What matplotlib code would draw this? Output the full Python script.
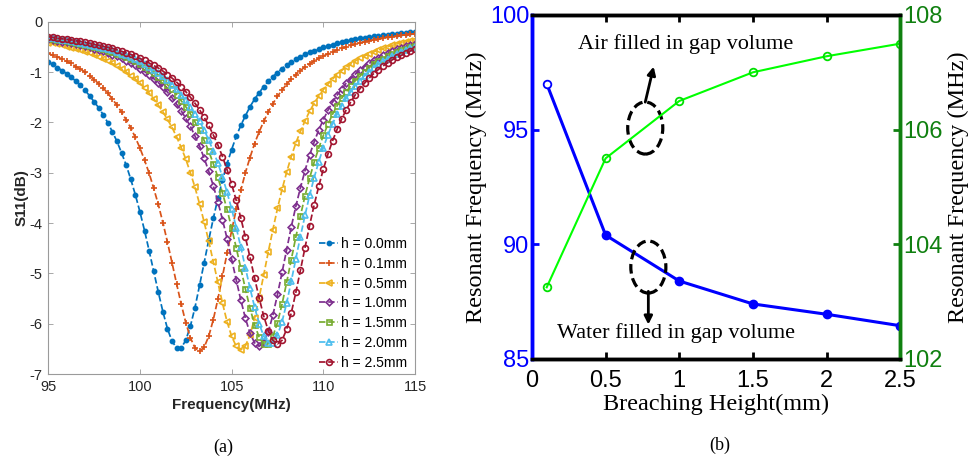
import numpy as np
import matplotlib
matplotlib.use("Agg")
import matplotlib.pyplot as plt
from matplotlib.patches import Ellipse

plt.rcParams['axes.unicode_minus'] = False

# ---------------- data: panel (a) ----------------
freq_mhz = np.linspace(95, 115, 81)

s11_h00 = [-0.80, -0.85, -0.91, -0.97, -1.03, -1.10, -1.18, -1.26, -1.36, -1.47,
           -1.59, -1.71, -1.85, -2.01, -2.19, -2.38, -2.61, -2.85, -3.13, -3.44,
           -3.78, -4.15, -4.55, -4.96, -5.37, -5.76, -6.10, -6.35, -6.48, -6.48,
           -6.33, -6.05, -5.68, -5.24, -4.79, -4.34, -3.91, -3.51, -3.15, -2.82,
           -2.54, -2.28, -2.06, -1.87, -1.69, -1.54, -1.41, -1.29, -1.18, -1.09,
           -1.01, -0.93, -0.86, -0.80, -0.75, -0.70, -0.65, -0.61, -0.58, -0.54,
           -0.51, -0.48, -0.46, -0.43, -0.41, -0.39, -0.37, -0.35, -0.33, -0.32,
           -0.30, -0.29, -0.28, -0.27, -0.26, -0.25, -0.24, -0.23, -0.22, -0.21, -0.20]

s11_h01 = [-0.63, -0.67, -0.70, -0.74, -0.79, -0.83, -0.89, -0.94, -1.00, -1.07,
           -1.15, -1.23, -1.32, -1.42, -1.54, -1.66, -1.80, -1.95, -2.11, -2.30,
           -2.51, -2.75, -3.01, -3.31, -3.63, -3.99, -4.38, -4.79, -5.21, -5.61,
           -5.98, -6.28, -6.48, -6.55, -6.47, -6.25, -5.92, -5.51, -5.06, -4.60,
           -4.15, -3.73, -3.35, -3.00, -2.70, -2.42, -2.19, -1.98, -1.79, -1.63,
           -1.48, -1.36, -1.24, -1.14, -1.05, -0.97, -0.90, -0.84, -0.78, -0.73,
           -0.68, -0.64, -0.60, -0.56, -0.53, -0.50, -0.47, -0.45, -0.42, -0.40,
           -0.38, -0.36, -0.35, -0.33, -0.31, -0.30, -0.29, -0.27, -0.26, -0.25, -0.24]

s11_h05 = [-0.42, -0.43, -0.45, -0.47, -0.50, -0.52, -0.54, -0.57, -0.60, -0.63,
           -0.66, -0.70, -0.74, -0.78, -0.83, -0.88, -0.94, -1.00, -1.07, -1.14,
           -1.22, -1.32, -1.42, -1.53, -1.66, -1.79, -1.94, -2.10, -2.29, -2.50,
           -2.73, -3.00, -3.29, -3.62, -3.98, -4.36, -4.77, -5.18, -5.59, -5.96,
           -6.25, -6.45, -6.52, -6.44, -6.23, -5.89, -5.48, -5.03, -4.57, -4.13,
           -3.71, -3.33, -2.99, -2.68, -2.41, -2.18, -1.97, -1.78, -1.62, -1.48,
           -1.35, -1.24, -1.14, -1.05, -0.97, -0.90, -0.84, -0.78, -0.73, -0.68,
           -0.64, -0.60, -0.56, -0.53, -0.50, -0.47, -0.44, -0.42, -0.40, -0.38, -0.36]

s11_h10 = [-0.35, -0.37, -0.38, -0.40, -0.41, -0.43, -0.45, -0.47, -0.49, -0.51,
           -0.54, -0.56, -0.59, -0.62, -0.66, -0.69, -0.73, -0.78, -0.82, -0.87,
           -0.93, -0.99, -1.06, -1.13, -1.21, -1.30, -1.40, -1.51, -1.64, -1.77,
           -1.92, -2.08, -2.27, -2.47, -2.71, -2.97, -3.26, -3.58, -3.93, -4.31,
           -4.72, -5.13, -5.53, -5.89, -6.19, -6.38, -6.45, -6.37, -6.16, -5.83,
           -5.42, -4.98, -4.53, -4.08, -3.67, -3.30, -2.96, -2.65, -2.39, -2.15,
           -1.95, -1.76, -1.60, -1.46, -1.34, -1.22, -1.13, -1.04, -0.96, -0.89,
           -0.83, -0.77, -0.72, -0.67, -0.63, -0.59, -0.55, -0.52, -0.49, -0.47, -0.44]

s11_h15 = [-0.33, -0.34, -0.36, -0.37, -0.39, -0.40, -0.42, -0.44, -0.46, -0.48,
           -0.50, -0.52, -0.55, -0.58, -0.61, -0.64, -0.67, -0.71, -0.75, -0.79,
           -0.84, -0.90, -0.95, -1.02, -1.09, -1.16, -1.25, -1.34, -1.45, -1.57,
           -1.69, -1.83, -1.99, -2.16, -2.36, -2.57, -2.82, -3.09, -3.40, -3.73,
           -4.10, -4.49, -4.90, -5.31, -5.69, -6.02, -6.27, -6.40, -6.40, -6.25,
           -5.98, -5.61, -5.18, -4.73, -4.28, -3.86, -3.46, -3.11, -2.79, -2.51,
           -2.26, -2.04, -1.84, -1.67, -1.52, -1.39, -1.27, -1.17, -1.08, -0.99,
           -0.92, -0.85, -0.79, -0.74, -0.69, -0.65, -0.61, -0.57, -0.54, -0.50, -0.48]

s11_h20 = [-0.32, -0.33, -0.34, -0.36, -0.37, -0.39, -0.40, -0.42, -0.44, -0.46,
           -0.48, -0.50, -0.52, -0.55, -0.57, -0.60, -0.64, -0.67, -0.71, -0.75,
           -0.79, -0.84, -0.89, -0.95, -1.01, -1.08, -1.16, -1.25, -1.34, -1.45,
           -1.56, -1.69, -1.83, -1.98, -2.15, -2.35, -2.57, -2.81, -3.08, -3.39,
           -3.72, -4.09, -4.48, -4.89, -5.29, -5.67, -6.00, -6.25, -6.38, -6.38,
           -6.23, -5.96, -5.59, -5.16, -4.71, -4.27, -3.85, -3.45, -3.10, -2.78,
           -2.50, -2.25, -2.03, -1.84, -1.67, -1.52, -1.39, -1.27, -1.17, -1.07,
           -0.99, -0.92, -0.85, -0.79, -0.74, -0.69, -0.64, -0.60, -0.57, -0.53, -0.50]

s11_h25 = [-0.30, -0.31, -0.33, -0.34, -0.35, -0.36, -0.38, -0.39, -0.41, -0.43,
           -0.45, -0.47, -0.49, -0.51, -0.53, -0.56, -0.59, -0.62, -0.65, -0.69,
           -0.73, -0.77, -0.82, -0.87, -0.92, -0.98, -1.05, -1.12, -1.20, -1.29,
           -1.39, -1.50, -1.62, -1.75, -1.90, -2.06, -2.25, -2.45, -2.68, -2.94,
           -3.23, -3.55, -3.90, -4.28, -4.68, -5.09, -5.49, -5.85, -6.14, -6.33,
           -6.40, -6.33, -6.11, -5.79, -5.38, -4.94, -4.49, -4.05, -3.64, -3.27,
           -2.93, -2.63, -2.37, -2.14, -1.93, -1.75, -1.59, -1.45, -1.33, -1.22,
           -1.12, -1.03, -0.95, -0.88, -0.82, -0.76, -0.71, -0.67, -0.62, -0.58, -0.55]

series_labels = ['h = 0.0mm', 'h = 0.1mm', 'h = 0.5mm', 'h = 1.0mm',
                 'h = 1.5mm', 'h = 2.0mm', 'h = 2.5mm']
freq_ticks = [95, 100, 105, 110, 115]
s11_ticks = [0, -1, -2, -3, -4, -5, -6, -7]

# ---------------- data: panel (b) ----------------
breach_h = [0.1, 0.5, 1.0, 1.5, 2.0, 2.5]
f_water = [97.0, 90.4, 88.4, 87.4, 86.95, 86.45]
f_air = [103.25, 105.5, 106.5, 107.0, 107.28, 107.5]
h_ticks = [0, 0.5, 1, 1.5, 2, 2.5]
h_ticklabels = ['0', '0.5', '1', '1.5', '2', '2.5']
left_ticks = [85, 90, 95, 100]
right_ticks = [102, 104, 106, 108]

# ---------------- styles ----------------
curve_colors = ['#0072BD', '#D95319', '#EDB120', '#7E2F8E', '#77AC30', '#4DBEEE', '#A2142F']
curve_markers = ['.', '+', '<', 'D', 's', '^', 'o']
curve_ms = [6.0, 5.0, 4.3, 3.4, 3.6, 4.3, 4.2]

SANS = ['Liberation Sans', 'DejaVu Sans']
SERIF = ['Liberation Serif', 'DejaVu Serif']

fig = plt.figure(figsize=(9.69, 4.61), dpi=100)

# ======== panel (a) ========
ax1 = fig.add_axes([0.0498, 0.1887, 0.3785, 0.7642])
all_s11 = [s11_h00, s11_h01, s11_h05, s11_h10, s11_h15, s11_h20, s11_h25]
for vals, lab, c, m, ms in zip(all_s11, series_labels, curve_colors, curve_markers, curve_ms):
    filled = m in ('.', '+')
    ax1.plot(freq_mhz, vals, linestyle='--', color=c, lw=1.25, marker=m, ms=ms,
             mfc=c if filled else 'none', mec=c, mew=1.2, label=lab)

ax1.set_xlim(95, 115)
ax1.set_ylim(-7, 0)
ax1.set_xticks(freq_ticks)
ax1.set_yticks(s11_ticks)
for sp in ax1.spines.values():
    sp.set_color('#9a9a9a')
    sp.set_linewidth(0.8)
ax1.tick_params(direction='in', top=True, right=True, length=3.5, width=0.6,
                color='#9a9a9a', labelcolor='#262626', labelsize=10.5, pad=4)
for t in ax1.get_xticklabels() + ax1.get_yticklabels():
    t.set_family(SANS)
ax1.set_xlabel('Frequency(MHz)', fontsize=11, fontweight='bold', family=SANS,
               color='#262626', labelpad=3)
ax1.set_ylabel('S11(dB)', fontsize=11, fontweight='bold', family=SANS,
               color='#262626', labelpad=1)
leg = ax1.legend(loc='lower right', frameon=False,
                 prop={'family': SANS, 'size': 10}, handlelength=1.4,
                 handletextpad=0.2, labelspacing=0.42, borderaxespad=0.1,
                 borderpad=0.2, bbox_to_anchor=(0.99, 0.0))

# ======== panel (b) ========
ax2 = fig.add_axes([0.549, 0.2213, 0.380, 0.7462])
ax2r = ax2.twinx()

ax2.plot(breach_h, f_water, color='#0000FF', lw=2.2, marker='o', ms=6,
         mfc='#0000FF', mec='#0000FF', markevery=[1, 2, 3, 4, 5], zorder=3)
ax2.plot(breach_h[:1], f_water[:1], linestyle='none', marker='o', ms=5.5,
         mfc='white', mec='#0000FF', mew=1.3, zorder=4)
ax2r.plot(breach_h, f_air, color='#00FF00', lw=1.5, marker='o', ms=5.5,
          mfc='none', mec='#00E000', mew=1.3)

ax2.set_xlim(0, 2.5)
ax2.set_ylim(85, 100)
ax2r.set_ylim(102, 108)
ax2.set_xticks(h_ticks)
ax2.set_xticklabels(h_ticklabels)
ax2.set_yticks(left_ticks)
ax2r.set_yticks(right_ticks)

blue = '#0000FF'
dgreen = '#108010'
for a in (ax2, ax2r):
    a.spines['top'].set_color('black')
    a.spines['bottom'].set_color('black')
    a.spines['left'].set_color(blue)
    a.spines['right'].set_color(dgreen)
    for sp in a.spines.values():
        sp.set_linewidth(2.5)

ax2.tick_params(axis='x', direction='in', top=True, length=5, width=2,
                labelsize=17, pad=8, colors='black')
ax2.tick_params(axis='y', direction='in', length=5, width=2, labelsize=17,
                pad=2, colors=blue)
ax2r.tick_params(axis='y', direction='in', length=5, width=2, labelsize=17,
                 pad=2, colors=dgreen)
for t in ax2.get_xticklabels() + ax2.get_yticklabels() + ax2r.get_yticklabels():
    t.set_family(SANS)

ax2.set_xlabel('Breaching Height(mm)', fontsize=17.5, family=SERIF, labelpad=1)
ax2.set_ylabel('Resonant Frequency (MHz)', fontsize=17.5, family=SERIF, labelpad=2)
ax2r.set_ylabel('Resonant Frequency (MHz)', fontsize=17.5, family=SERIF,
                rotation=90, labelpad=4)

# annotations: dashed ellipses with arrows (placed in left-axis data coordinates)
ax2r.set_zorder(ax2.get_zorder() + 1)
ax2r.patch.set_visible(False)
ax2r.add_patch(Ellipse((0.769, 95.07), 0.238, 2.27, transform=ax2.transData,
                       fill=False, ec='black', lw=2.3, ls=(0, (3, 1.5))))
ax2r.add_patch(Ellipse((0.79, 89.01), 0.238, 2.27, transform=ax2.transData,
                       fill=False, ec='black', lw=2.3, ls=(0, (3, 1.5))))
ax2r.annotate('', xy=(0.826, 97.75), xytext=(0.769, 96.2),
              xycoords=ax2.transData, textcoords=ax2.transData,
              arrowprops=dict(arrowstyle='-|>', color='black', lw=2,
                              mutation_scale=12, shrinkA=0, shrinkB=0))
ax2r.annotate('', xy=(0.79, 86.5), xytext=(0.79, 87.95),
              xycoords=ax2.transData, textcoords=ax2.transData,
              arrowprops=dict(arrowstyle='-|>', color='black', lw=2,
                              mutation_scale=12, shrinkA=0, shrinkB=0))
ax2.text(1.045, 98.72, 'Air filled in gap volume', fontsize=16, family=SERIF,
         ha='center', va='center')
ax2.text(0.98, 86.13, 'Water filled in gap volume', fontsize=16, family=SERIF,
         ha='center', va='center')

fig.text(223 / 969, 1 - 447 / 461, '(a)', fontsize=13, family=SERIF,
         ha='center', va='center')
fig.text(720 / 969, 1 - 445 / 461, '(b)', fontsize=13, family=SERIF,
         ha='center', va='center')

fig.savefig('out.png', dpi=100)
